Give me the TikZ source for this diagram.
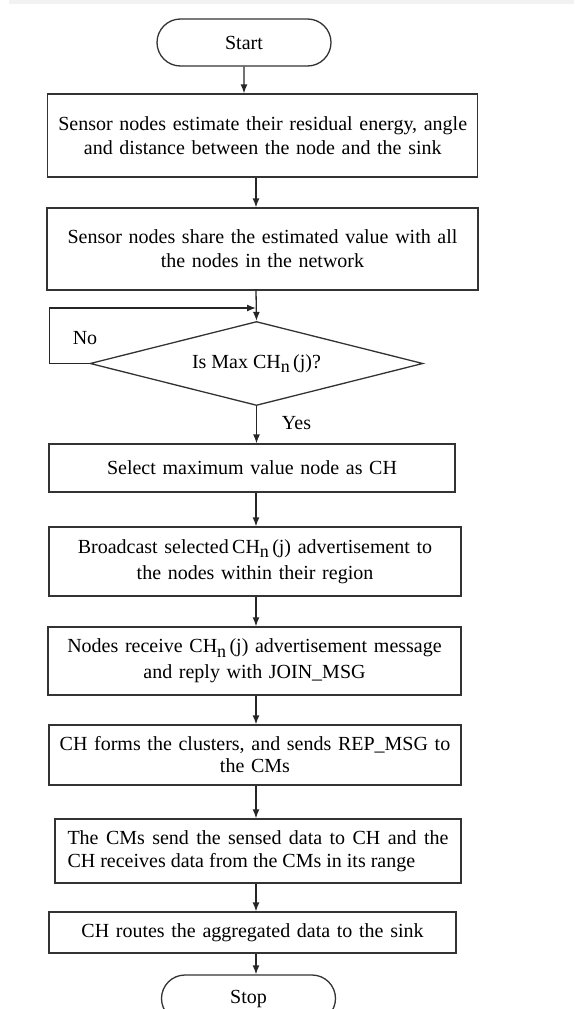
\documentclass[tikz,border=0pt]{standalone}
\usepackage{fontspec}
\setmainfont{Liberation Serif}
\usepackage{tikz}
\usetikzlibrary{arrows.meta}
\usetikzlibrary{shapes.geometric,shapes.misc}

\newcommand{\flowfont}{\fontsize{20}{24}\selectfont}
\newcommand{\chnj}{CH\raisebox{-0.22em}{\fontsize{18}{18}\selectfont n}\,(j)}

\tikzset{
  procbox/.style={draw=black!80,line width=1.3pt,rectangle,inner xsep=4pt,inner ysep=2pt,align=center,font=\flowfont},
  termbox/.style={draw=black!80,line width=1.3pt,rounded rectangle,minimum width=174pt,minimum height=47pt,inner sep=0pt,font=\flowfont},
  decbox/.style={draw=black!80,line width=1.3pt,diamond,aspect=3.96,minimum width=333pt,minimum height=84pt,inner sep=0pt,font=\flowfont},
  arr/.style={line width=1.3pt,draw=black!85,-{Latex[length=9pt,width=7pt]}},
}

\begin{document}
\begin{tikzpicture}[x=1pt,y=-1pt]
  \useasboundingbox (0,0) rectangle (574,1009);
  \clip (0,0) rectangle (574,1009);
  \fill[black!5] (9,0) rectangle (574,4);
  % flow steps
  \node[termbox] (start) at (244,42.5) {Start};
  \node[procbox,text width=422pt,minimum height=83pt] (estim) at (262.75,135.5)
    {Sensor nodes estimate their residual energy, angle\\and distance between the node and the sink};
  \node[procbox,text width=423pt,minimum height=82pt] (share) at (262.5,249)
    {Sensor nodes share the estimated value with all\\the nodes in the network};
  \node[decbox] (ismax) at (256.5,363.5) {Is Max \chnj?};
  \node[procbox,text width=398pt,minimum height=48pt] (select) at (252,468)
    {Select maximum value node as CH};
  \node[procbox,text width=404pt,minimum height=69pt,font=\fontsize{20}{26}\selectfont] (bcast) at (255,561.5)
    {Broadcast selected\,\chnj\ advertisement to\\the nodes within their region};
  \node[procbox,text width=405pt,minimum height=68pt,font=\fontsize{20}{26}\selectfont] (recv) at (254.5,661)
    {Nodes receive \chnj\ advertisement message\\and reply with JOIN\_MSG};
  \node[procbox,text width=404pt,minimum height=60pt,font=\fontsize{20}{22}\selectfont] (form) at (255,755)
    {CH forms the clusters, and sends REP\_MSG to\\the CMs};
  \node[procbox,align=justify,inner xsep=12.5pt,text width=381pt,minimum height=64pt,font=\fontsize{20}{23}\selectfont] (sense) at (258,851)
    {The CMs send the sensed data to CH and the\linebreak CH receives data from the CMs in its range};
  \node[procbox,text width=399pt,minimum height=41pt] (route) at (252.5,932.5)
    {CH routes the aggregated data to the sink};
  \node[termbox] (stop) at (248.5,998.5) {Stop};
  % labels
  \node[font=\flowfont] (no) at (85,338) {No};
  \node[font=\flowfont] (yes) at (296.5,423) {Yes};
  % connectors
  \coordinate (spine) at (256,0);
  \coordinate (loop) at (49.4,0);
  \coordinate (join) at (256,308);
  \draw[arr] (start) -- (start |- estim.north);
  \draw[arr] (estim.south -| spine) -- (share.north -| spine);
  \draw[arr] (share.south -| spine) -- (ismax.north);
  \draw[arr] (ismax.west) -- (ismax.west -| loop) |- (join);
  \draw[arr] (ismax.south) -- (ismax.south |- select.north);
  \draw[arr] (select.south -| spine) -- (bcast.north -| spine);
  \draw[arr] (bcast.south -| spine) -- (recv.north -| spine);
  \draw[arr] (recv.south -| spine) -- (form.north -| spine);
  \draw[arr] (form.south -| spine) -- (sense.north -| spine);
  \draw[arr] (sense.south -| spine) -- (route.north -| spine);
  \draw[arr] (route.south -| spine) -- (stop.north -| spine);
\end{tikzpicture}
\end{document}
